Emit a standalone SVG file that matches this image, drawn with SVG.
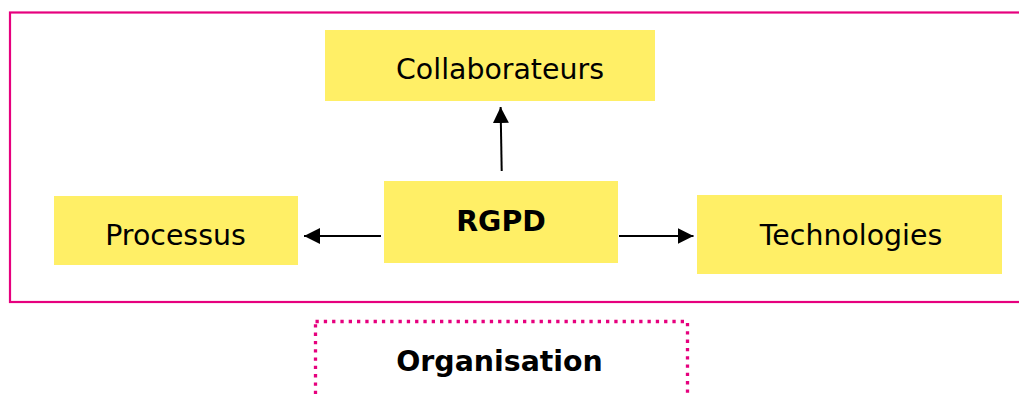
<svg xmlns="http://www.w3.org/2000/svg" width="1019" height="396" viewBox="0 0 1019 396">
  <defs>
    <marker id="arrow" viewBox="0 0 16 16" refX="16" refY="8" markerWidth="16" markerHeight="16" markerUnits="userSpaceOnUse" orient="auto">
      <path d="M0,0 L16,8 L0,16 Z" fill="#000"/>
    </marker>
    <style>
      .box { fill: #FFEF66; }
      .lbl { font-family: "DejaVu Sans", Verdana, sans-serif; font-size: 28.4px; fill: #000; text-anchor: middle; }
      .bold { font-weight: bold; }
      .conn { stroke: #000; stroke-width: 2; fill: none; marker-end: url(#arrow); }
    </style>
  </defs>
  <rect x="0" y="0" width="1019" height="396" fill="#fff"/>
  <g id="frame">
    <rect x="10" y="12.5" width="1030" height="289.5" fill="none" stroke="#E6007E" stroke-width="2.2"/>
  </g>
  <g id="collaborateurs">
    <rect class="box" x="325" y="30" width="330" height="71"/>
    <text class="lbl" x="500" y="79">Collaborateurs</text>
  </g>
  <g id="rgpd">
    <rect class="box" x="384" y="181" width="234" height="82"/>
    <text class="lbl bold" x="501" y="231">RGPD</text>
  </g>
  <g id="processus">
    <rect class="box" x="54" y="196" width="244" height="69"/>
    <text class="lbl" x="175.5" y="244.5">Processus</text>
  </g>
  <g id="technologies">
    <rect class="box" x="697" y="195" width="305" height="79"/>
    <text class="lbl" x="851" y="244.5">Technologies</text>
  </g>
  <g id="organisation">
    <rect x="315.5" y="321.5" width="372" height="100" fill="none" stroke="#E6007E" stroke-width="3.3" stroke-dasharray="3.3 5"/>
    <text class="lbl bold" x="499.5" y="371">Organisation</text>
  </g>
  <g id="connectors">
    <line class="conn" x1="501.7" y1="171" x2="500.6" y2="107"/>
    <line class="conn" x1="381" y1="236" x2="304" y2="236"/>
    <line class="conn" x1="619" y1="236" x2="693.5" y2="236"/>
  </g>
</svg>
